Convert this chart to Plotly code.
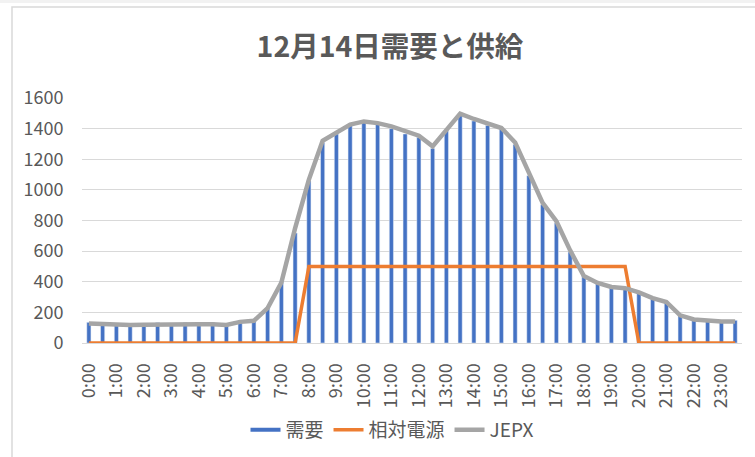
import plotly.graph_objects as go

times = [f"{h}:{m:02d}" for h in range(24) for m in (0, 30)]
hour_labels = [f"{h}:00" for h in range(24)]

demand = [135, 131, 128, 124, 128, 133, 128, 133, 128, 133, 124, 148, 157, 231, 403, 718,
          1060, 1310, 1365, 1421, 1441, 1428, 1400, 1365, 1343, 1271, 1389, 1493, 1450, 1421, 1398, 1297,
          1093, 903, 784, 594, 442, 396, 368, 364, 331, 290, 272, 181, 161, 152, 148, 148]
relative = [0] * 16 + [500] * 24 + [0] * 8
jepx = [128, 124, 122, 118, 120, 122, 122, 122, 122, 122, 118, 138, 145, 228, 395, 750,
        1067, 1321, 1371, 1426, 1447, 1436, 1415, 1382, 1354, 1284, 1393, 1498, 1463, 1436, 1404, 1310,
        1110, 915, 795, 605, 437, 392, 366, 358, 331, 293, 268, 181, 154, 145, 140, 140]

BLUE = "#4472C4"
ORANGE = "#ED7D31"
GRAY = "#A5A5A5"
TXT = "#595959"
FONT = "Noto Sans CJK JP"

fig = go.Figure()
fig.add_trace(go.Bar(x=times, y=demand, name="需要", marker_color=BLUE, showlegend=False))
fig.add_trace(go.Scatter(x=[None], y=[None], mode="lines", name="需要",
                         line=dict(color=BLUE, width=4)))
fig.add_trace(go.Scatter(x=times, y=relative, mode="lines", name="相対電源",
                         line=dict(color=ORANGE, width=3.5)))
fig.add_trace(go.Scatter(x=times, y=jepx, mode="lines", name="JEPX",
                         line=dict(color=GRAY, width=4.5)))

L, R, T, B = 82, 13, 98, 114
W, H = 755, 457
ph = H - T - B
pw = W - L - R

def px_x(p):
    return (p - L) / pw

def px_y(p):
    return (H - B - p) / ph

fig.update_layout(
    width=W, height=H,
    margin=dict(l=L, r=R, t=T, b=B, autoexpand=False),
    paper_bgcolor="white", plot_bgcolor="white",
    font=dict(family=FONT, color=TXT, size=18),
    bargap=0.7,
    title=dict(text="<b>12月14日需要と供給</b>", x=390 / W, xanchor="center",
               y=1 - 47 / H, yanchor="middle",
               font=dict(family=FONT, size=28.5, color=TXT)),
    xaxis=dict(type="category", categoryorder="array", categoryarray=times,
               tickmode="array", tickvals=hour_labels, ticktext=hour_labels,
               tickangle=-90, showgrid=False, showline=True, linecolor="#D9D9D9",
               ticks="outside", ticklen=12, tickcolor="rgba(0,0,0,0)",
               tickfont=dict(size=18, color=TXT), fixedrange=True, automargin=False),
    yaxis=dict(range=[0, 1600], dtick=200, gridcolor="#D9D9D9", gridwidth=1,
               zeroline=False, showline=False, automargin=False,
               ticks="outside", ticklen=14, tickcolor="rgba(0,0,0,0)",
               tickfont=dict(size=18, color=TXT)),
    legend=dict(orientation="h", x=px_x(392), xanchor="center",
                y=px_y(430), yanchor="middle",
                font=dict(size=19, color=TXT), bgcolor="rgba(0,0,0,0)"),
    shapes=[
        dict(type="rect", xref="paper", yref="paper", x0=px_x(-5), x1=px_x(770),
             y0=px_y(3), y1=px_y(-5), fillcolor="#F2F2F2", line=dict(width=0), layer="below"),
        dict(type="path", xref="paper", yref="paper",
             path=f"M {px_x(12)} {px_y(470)} L {px_x(12)} {px_y(7)} L {px_x(770)} {px_y(7)}",
             line=dict(color="#D9D9D9", width=1.5)),
    ],
)

fig.write_html("out.html", config={"displayModeBar": False},
               post_script="document.body.style.margin='0px';document.body.style.overflow='hidden';")
